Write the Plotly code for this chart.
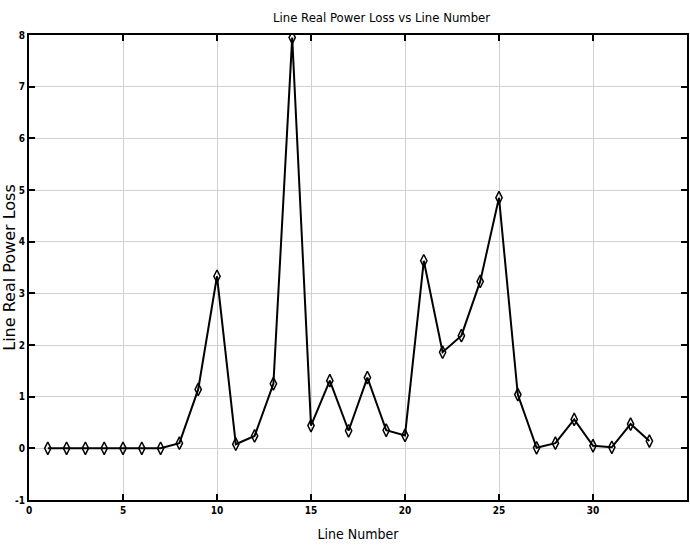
import plotly.graph_objects as go

line_number = list(range(1, 34))
power_loss = [0, 0, 0, 0, 0, 0, 0, 0.10, 1.14, 3.33, 0.08, 0.24, 1.25, 7.95, 0.44,
              1.31, 0.34, 1.37, 0.35, 0.25, 3.63, 1.86, 2.18, 3.23, 4.85, 1.04,
              0.01, 0.10, 0.56, 0.05, 0.02, 0.47, 0.14]

x_ticks = [0, 5, 10, 15, 20, 25, 30, 35]
y_ticks = [-1, 0, 1, 2, 3, 4, 5, 6, 7, 8]

narrow = "Liberation Sans Narrow, DejaVu Sans Condensed, sans-serif"

fig = go.Figure()
fig.add_trace(go.Scatter(
    x=line_number, y=power_loss, mode="lines+markers",
    line=dict(color="black", width=2),
    marker=dict(symbol="diamond-tall-open", size=9, color="black", line=dict(width=1.5)),
    showlegend=False,
))

fig.update_layout(
    width=690, height=550,
    margin=dict(l=29, r=1, t=35, b=50),
    paper_bgcolor="white", plot_bgcolor="white",
    title=dict(text="Line Real Power Loss vs Line Number", x=0.553, xanchor="center",
               y=0.968, yanchor="middle",
               font=dict(family=narrow, size=13, color="black")),
    xaxis=dict(range=[0, 35], tickvals=x_ticks, ticktext=[str(v) for v in x_ticks],
               showgrid=True, gridcolor="#d0d0d0", gridwidth=1, zeroline=False,
               showline=True, linecolor="black", linewidth=2, mirror="ticks",
               ticks="inside", ticklen=6, tickcolor="black", tickwidth=1.5,
               tickfont=dict(family=narrow, size=10, color="black", weight="bold"),
               title=dict(text="Line Number", standoff=14,
                          font=dict(family=narrow, size=14, color="black"))),
    yaxis=dict(range=[-1, 8], tickvals=y_ticks, ticktext=[str(v) for v in y_ticks],
               showgrid=True, gridcolor="#d0d0d0", gridwidth=1, zeroline=False,
               showline=True, linecolor="black", linewidth=2, mirror="ticks",
               ticks="inside", ticklen=6, tickcolor="black", tickwidth=1.5,
               tickfont=dict(family=narrow, size=10, color="black", weight="bold"),
               title=dict(text="Line Real Power Loss", standoff=2,
                          font=dict(family="DejaVu Sans", size=16, color="black"))),
)

fig.write_html("out.html")
